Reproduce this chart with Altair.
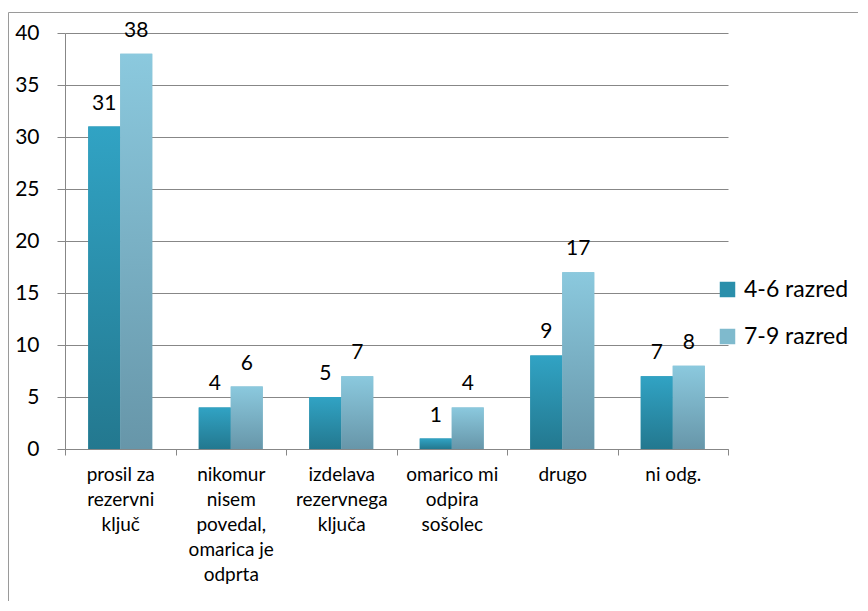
import altair as alt
import pandas as pd

categories = [
    "prosil za|rezervni|ključ",
    "nikomur|nisem|povedal,|omarica je|odprta",
    "izdelava|rezervnega|ključa",
    "omarico mi|odpira|sošolec",
    "drugo",
    "ni odg.",
]
series = ["4-6 razred", "7-9 razred"]
values_46 = [31, 4, 5, 1, 9, 7]
values_79 = [38, 6, 7, 4, 17, 8]
y_ticks = [0, 5, 10, 15, 20, 25, 30, 35, 40]

rows = []
for c, a, b in zip(categories, values_46, values_79):
    rows.append({"cat": c, "serija": series[0], "v": a})
    rows.append({"cat": c, "serija": series[1], "v": b})
df = pd.DataFrame(rows)

FONT = "Lato"
GRID = "#878787"

x_enc = alt.X(
    "cat:N",
    sort=categories,
    title=None,
    scale=alt.Scale(paddingInner=0, paddingOuter=0),
    axis=alt.Axis(
        labelAngle=0,
        labelExpr="split(datum.label, '|')",
        labelFontSize=19,
        labelLineHeight=25,
        labelFont=FONT,
        labelColor="#000000",
        labelPadding=10,
        labelBaseline="top",
        tickBand="extent",
        tickSize=6,
        tickColor=GRID,
        domainColor=GRID,
        grid=False,
    ),
)
xo_enc = alt.XOffset(
    "serija:N", sort=series, scale=alt.Scale(paddingInner=0, paddingOuter=0.727)
)
y_enc = alt.Y(
    "v:Q",
    title=None,
    scale=alt.Scale(domain=[0, 40], nice=False),
    axis=alt.Axis(
        values=y_ticks,
        labelFontSize=21,
        labelFont=FONT,
        labelColor="#000000",
        labelPadding=18,
        tickSize=8,
        tickColor=GRID,
        domainColor=GRID,
        gridColor=GRID,
        gridWidth=1,
    ),
)

base = alt.Chart(df).encode(x=x_enc, xOffset=xo_enc, y=y_enc)

legend_bars = base.mark_bar().encode(
    color=alt.Color(
        "serija:N",
        sort=series,
        scale=alt.Scale(domain=series, range=["#2a8fab", "#7fbacd"]),
        legend=alt.Legend(
            title=None,
            orient="none",
            legendX=651,
            legendY=245,
            symbolType="square",
            symbolSize=240,
            symbolStrokeWidth=0,
            symbolOpacity=1,
            labelFontSize=23,
            labelFont=FONT,
            labelColor="#000000",
            rowPadding=23,
            labelOffset=5,
        ),
    )
)

grad1 = alt.Gradient(
    gradient="linear", x1=0, y1=0, x2=0, y2=1,
    stops=[alt.GradientStop(color="#31a3c4", offset=0),
           alt.GradientStop(color="#23788f", offset=1)],
)
grad2 = alt.Gradient(
    gradient="linear", x1=0, y1=0, x2=0, y2=1,
    stops=[alt.GradientStop(color="#8bc9de", offset=0),
           alt.GradientStop(color="#6796a9", offset=1)],
)

bars1 = base.transform_filter(alt.datum.serija == series[0]).mark_bar(fill=grad1)
bars2 = base.transform_filter(alt.datum.serija == series[1]).mark_bar(fill=grad2)

labels = base.mark_text(
    baseline="bottom", dy=-13, fontSize=21, font=FONT, color="#000000"
).encode(text="v:Q")

frame = alt.Chart(pd.DataFrame({"a": [0]})).mark_rect(
    fill=None, stroke="#9a9a9a", strokeWidth=1
).encode(
    x=alt.value(-56.5), x2=alt.value(900),
    y=alt.value(-20.5), y2=alt.value(700),
)

chart = alt.layer(frame, legend_bars, bars1, bars2, labels).properties(
    width=663,
    height=416,
    autosize=alt.AutoSizeParams(type="none"),
    padding={"left": 57, "top": 25, "right": 130, "bottom": 152},
    background="white",
).configure_view(stroke=None)

chart.save("out.html", embed_options={"renderer": "svg", "actions": False})
